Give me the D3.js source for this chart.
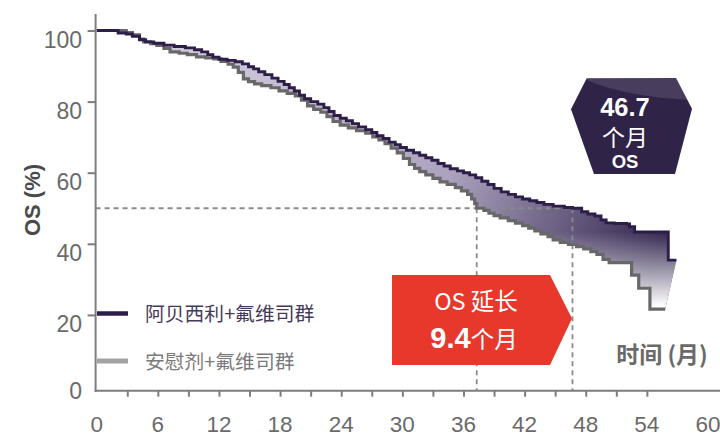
<!DOCTYPE html>
<html>
<head>
<meta charset="utf-8">
<script src="https://cdn.jsdelivr.net/npm/d3@7"></script>
<style>
  html, body { margin: 0; padding: 0; background: #fff; overflow: hidden; }
  svg { display: block; font-family: "Liberation Sans", Arial, "Noto Sans CJK SC", sans-serif; }
  .cjk { font-family: "Noto Sans CJK SC", "Liberation Sans", sans-serif; }
</style>
</head>
<body>
<svg id="chart" width="720" height="438"></svg>
<script>
// Kaplan–Meier overall survival, [month, % alive]
const abemaciclibArm = [
  [0,100],[2.1,99.3],[2.9,99.0],[3.5,98.4],[4.2,97.4],[4.8,96.8],[5.6,96.4],[6.6,95.9],
  [7.6,95.5],[8.7,95.1],[9.6,94.6],[10.3,94.0],[10.9,93.2],[11.4,92.5],[12.0,91.9],
  [12.8,91.6],[13.6,91.2],[14.3,90.6],[14.9,89.8],[15.4,89.2],[15.9,88.4],[16.5,87.6],
  [17.2,86.6],[17.8,85.7],[18.4,84.8],[18.9,83.9],[19.4,83.0],[19.9,81.8],[20.4,80.8],
  [21.0,80.0],[21.7,79.3],[22.3,78.3],[22.8,77.2],[23.3,76.1],[23.9,75.3],[24.5,74.6],
  [25.1,73.8],[25.7,72.9],[26.4,72.1],[27.0,71.3],[27.5,70.4],[28.1,69.6],[28.7,68.6],
  [29.3,67.9],[29.8,67.1],[30.4,66.3],[31.1,65.6],[31.7,64.9],[32.3,64.2],[32.9,63.5],
  [33.5,62.6],[34.1,61.9],[34.7,61.1],[35.4,60.5],[36.0,60.0],[36.6,59.4],[37.2,58.6],
  [37.8,57.6],[38.4,56.7],[39.0,55.6],[39.7,54.6],[40.4,53.9],[41.1,53.2],[41.8,52.6],
  [42.5,52.1],[43.2,51.6],[43.9,51.1],[44.8,50.6],[45.9,50.2],[46.7,50.0],[47.6,49.0],
  [48.2,48.4],[48.9,47.8],[49.5,46.7],[50.0,45.9],[50.8,45.7],[52.0,45.6],[52.3,44.8],
  [52.8,43.3],[56.1,35.4],[56.9,35.4]
];
const placeboArm = [
  [0,100],[2.9,99.4],[3.5,98.8],[4.2,97.6],[4.6,96.8],[5.3,96.3],[5.9,95.8],[6.6,95.0],
  [7.2,94.0],[8.1,93.6],[8.9,93.2],[9.8,92.6],[10.7,92.3],[11.5,92.0],[12.2,91.3],
  [12.9,90.5],[13.4,89.7],[13.9,88.2],[14.4,86.4],[14.9,85.6],[15.5,85.0],[16.2,84.5],
  [17.1,83.9],[17.9,83.0],[18.7,82.3],[19.5,81.6],[20.1,80.4],[20.7,78.8],[21.3,77.8],
  [22.0,77.0],[22.6,75.8],[23.2,74.4],[23.9,73.4],[24.7,72.6],[25.5,71.8],[26.4,71.1],
  [27.1,70.1],[27.7,69.2],[28.3,68.2],[28.9,66.9],[29.5,65.6],[30.1,64.0],[30.7,62.3],
  [31.2,61.2],[31.7,60.3],[32.3,59.4],[33.0,58.4],[33.7,57.4],[34.4,56.7],[35.2,55.8],
  [35.8,54.9],[36.4,53.9],[36.8,52.6],[37.1,51.3],[37.3,50.0],[38.0,49.4],[38.5,48.6],
  [39.0,47.9],[39.6,47.3],[40.4,46.5],[41.1,45.8],[41.8,45.1],[42.4,44.4],[43.0,43.6],
  [43.6,42.8],[44.3,42.0],[44.8,41.1],[45.5,40.4],[46.3,39.8],[47.1,39.2],[47.8,38.6],
  [48.5,37.8],[49.1,37.0],[49.7,35.6],[50.3,34.7],[52.5,31.2],[53.2,27.5],[54.3,21.6],
  [55.8,21.6]
];

const medianAbema = 46.7;     // months
const medianPlacebo = 37.3;   // months
const medianGain = 9.4;       // months
const medianLevel = 50;       // %

const xTickMonths = [3,6,9,12,15,18,21,24,27,30,33,36,39,42,45,48,51,54];
const xLabelMonths = [0,6,12,18,24,30,36,42,48,54,60];
const yTickValues = [20,40,60,80,100];
const yLabelValues = [0,20,40,60,80,100];
const legendLabels = ["阿贝西利+氟维司群", "安慰剂+氟维司群"];
const yTitle = "OS (%)";
const xTitle = "时间 (月)";

// ---- scales ----
const x = d3.scaleLinear().domain([0, 60]).range([96.7, 708]);
const y = d3.scaleLinear().domain([0, 100]).range([386, 30.5]);
const axisX = 95.6, axisY = 390.7;

const svg = d3.select("#chart");
const defs = svg.append("defs");

// fill between curves: lavender on the left deepening to dark purple
const g1 = defs.append("linearGradient").attr("id", "gapFill")
  .attr("gradientUnits", "userSpaceOnUse")
  .attr("x1", 200).attr("y1", 60).attr("x2", 665).attr("y2", 235);
g1.append("stop").attr("offset", 0).attr("stop-color", "#d0c9da");
g1.append("stop").attr("offset", 0.55).attr("stop-color", "#aca2be");
g1.append("stop").attr("offset", 1).attr("stop-color", "#33264f");
// white fade toward the lower tail
const g2 = defs.append("linearGradient").attr("id", "gapFade")
  .attr("gradientUnits", "userSpaceOnUse")
  .attr("x1", 0).attr("y1", 232).attr("x2", 0).attr("y2", 306);
g2.append("stop").attr("offset", 0).attr("stop-color", "#fff").attr("stop-opacity", 0);
g2.append("stop").attr("offset", 1).attr("stop-color", "#fff").attr("stop-opacity", 1);

// expand KM points into explicit stair vertices
function stairs(pts) {
  const out = [pts[0]];
  for (let i = 1; i < pts.length; i++) {
    out.push([pts[i][0], pts[i - 1][1]]);
    out.push(pts[i]);
  }
  return out;
}
const abStairs = stairs(abemaciclibArm);
const plStairs = stairs(placeboArm);
const line = d3.line().x(d => x(d[0])).y(d => y(d[1]));

// shaded gap between arms
const gapPoly = abStairs.concat(plStairs.slice().reverse());
svg.append("path").attr("d", line(gapPoly) + "Z").attr("fill", "url(#gapFill)");
svg.append("path").attr("d", line(gapPoly) + "Z").attr("fill", "url(#gapFade)");

// median reference lines
function dashed(x1, y1, x2, y2) {
  svg.append("line").attr("x1", x1).attr("y1", y1).attr("x2", x2).attr("y2", y2)
    .attr("stroke", "#8a8a8a").attr("stroke-width", 1.8).attr("stroke-dasharray", "5,4");
}
dashed(axisX, y(medianLevel), x(medianAbema), y(medianLevel));
dashed(x(medianPlacebo), y(medianLevel), x(medianPlacebo), axisY);
dashed(x(medianAbema), y(medianLevel), x(medianAbema), axisY);

// survival curves
svg.append("path").attr("d", line(plStairs)).attr("fill", "none")
  .attr("stroke", "#686868").attr("stroke-width", 3.2);
svg.append("path").attr("d", line(abStairs)).attr("fill", "none")
  .attr("stroke", "#2c1e48").attr("stroke-width", 2.9);

// ---- axes ----
const axisColor = "#7d7d7d", labelColor = "#6a6a6a";
svg.append("line").attr("x1", axisX).attr("x2", axisX).attr("y1", 14).attr("y2", axisY + 1)
  .attr("stroke", axisColor).attr("stroke-width", 2);
svg.append("line").attr("x1", axisX - 1).attr("x2", 720).attr("y1", axisY).attr("y2", axisY)
  .attr("stroke", axisColor).attr("stroke-width", 2);

const yAxis = svg.append("g").attr("transform", `translate(${axisX},0)`)
  .call(d3.axisLeft(y).tickValues(yTickValues).tickSize(8).tickFormat(""));
yAxis.select(".domain").remove();
yAxis.selectAll(".tick line").attr("stroke", axisColor).attr("stroke-width", 2);

svg.append("g").selectAll("text").data(yLabelValues).join("text")
  .attr("x", 82).attr("y", d => d === 0 ? axisY : y(d) + 9.5)
  .attr("dy", "0.35em").attr("text-anchor", "end")
  .attr("font-size", 23).attr("fill", labelColor).text(d => d);

const xAxis = svg.append("g").attr("transform", `translate(0,${axisY})`)
  .call(d3.axisBottom(x).tickValues(xTickMonths).tickSize(6).tickFormat(""));
xAxis.select(".domain").remove();
xAxis.selectAll(".tick line").attr("stroke", axisColor).attr("stroke-width", 2);

svg.append("g").selectAll("text").data(xLabelMonths).join("text")
  .attr("x", d => x(d)).attr("y", 424.5).attr("dy", "0.35em").attr("text-anchor", "middle")
  .attr("font-size", 22.5).attr("fill", labelColor).text(d => d);

svg.append("text").attr("transform", "translate(32,200) rotate(-90)")
  .attr("text-anchor", "middle").attr("dy", "0.35em")
  .attr("font-size", 22).attr("font-weight", "bold").attr("fill", "#4a4a4a").text(yTitle);

svg.append("text").attr("class", "cjk").attr("x", 662).attr("y", 355).attr("dy", "0.35em")
  .attr("text-anchor", "middle").attr("font-size", 23).attr("font-weight", "bold")
  .attr("fill", "#6a6a6a").text(xTitle);

// ---- legend ----
const legend = svg.append("g");
[["#2c1e48", "#463a5c"], ["#a3a3a3", "#7a7a7a"]].forEach(([lc, tc], i) => {
  const ly = 313.5 + i * 47.5;
  legend.append("line").attr("x1", 97).attr("x2", 128).attr("y1", ly).attr("y2", ly)
    .attr("stroke", lc).attr("stroke-width", i ? 5 : 4.5);
  legend.append("text").attr("class", "cjk").attr("x", 145).attr("y", ly + 1).attr("dy", "0.35em")
    .attr("font-size", 19.8).attr("fill", tc).text(legendLabels[i]);
});

// ---- median badge ----
const badge = svg.append("g");
const badgeShape = "M586.7,78.3 L676,78 L692,108.8 L675,174 L594,174 L571,109.3 Z";
defs.append("clipPath").attr("id", "badgeClip").append("path").attr("d", badgeShape);
badge.append("path").attr("d", badgeShape).attr("fill", "#2f2347");
badge.append("ellipse").attr("clip-path", "url(#badgeClip)")
  .attr("cx", 705).attr("cy", 48).attr("rx", 150).attr("ry", 52)
  .attr("fill", "#ffffff").attr("opacity", 0.12);
badge.append("text").attr("x", 625).attr("y", 107.5).attr("dy", "0.35em").attr("text-anchor", "middle")
  .attr("font-size", 25.5).attr("font-weight", "bold").attr("fill", "#fff").text(medianAbema);
badge.append("text").attr("class", "cjk").attr("x", 625).attr("y", 138).attr("dy", "0.35em")
  .attr("text-anchor", "middle").attr("font-size", 23).attr("fill", "#fff").text("个月");
badge.append("text").attr("x", 625).attr("y", 162).attr("dy", "0.35em").attr("text-anchor", "middle")
  .attr("font-size", 18.5).attr("font-weight", "bold").attr("fill", "#fff").text("OS");

// ---- gain callout ----
const call = svg.append("g");
call.append("path").attr("d", "M392,275 L550,275 L572,318.5 L550,365 L392,365 Z").attr("fill", "#e8382c");
call.append("text").attr("class", "cjk").attr("x", 476).attr("y", 302).attr("dy", "0.35em")
  .attr("text-anchor", "middle").attr("font-size", 23.5).attr("fill", "#fff").text("OS 延长");
const gainText = call.append("text").attr("x", 474).attr("y", 342).attr("dy", "0.35em")
  .attr("text-anchor", "middle").attr("fill", "#fff");
gainText.append("tspan").attr("font-size", 29).attr("font-weight", "bold").text(medianGain);
gainText.append("tspan").attr("class", "cjk").attr("font-size", 23.5).text("个月");
</script>
</body>
</html>
